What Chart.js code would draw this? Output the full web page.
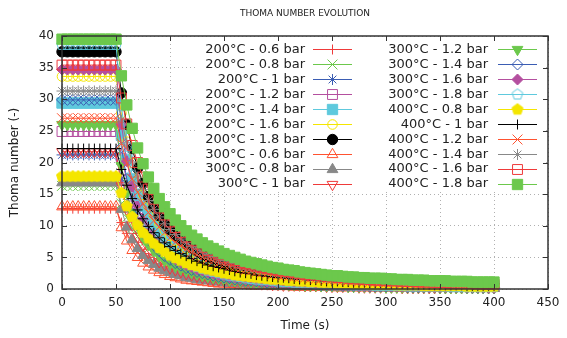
<!DOCTYPE html>
<html><head><meta charset="utf-8">
<script src="https://cdn.jsdelivr.net/npm/chart.js@4/dist/chart.umd.min.js"></script>
<style>html,body{margin:0;padding:0;background:#fff}canvas{display:block}</style>
</head><body>
<canvas id="c" width="567" height="338"></canvas>
<script>
const chartTitle = 'THOMA NUMBER EVOLUTION';
const xTitle = 'Time (s)';
const yTitle = 'Thoma number (-)';
const xTicks = [0,50,100,150,200,250,300,350,400,450];
const yTicks = [0,5,10,15,20,25,30,35,40];

const times = [0,5,10,15,20,25,30,35,40,45,50,55,60,65,70,75,80,85,90,95,100,105,110,115,120,125,130,135,140,145,150,155,160,165,170,175,180,185,190,195,200,205,210,215,220,225,230,235,240,245,250,255,260,265,270,275,280,285,290,295,300,305,310,315,320,325,330,335,340,345,350,355,360,365,370,375,380,385,390,395,400];

const seriesNames = ['200°C - 0.6 bar','200°C - 0.8 bar','200°C - 1 bar','200°C - 1.2 bar','200°C - 1.4 bar','200°C - 1.6 bar','200°C - 1.8 bar','300°C - 0.6 bar','300°C - 0.8 bar','300°C - 1 bar','300°C - 1.2 bar','300°C - 1.4 bar','300°C - 1.6 bar','300°C - 1.8 bar','400°C - 0.8 bar','400°C - 1 bar','400°C - 1.2 bar','400°C - 1.4 bar','400°C - 1.6 bar','400°C - 1.8 bar'];

const s200_06 = [12.7,12.7,12.7,12.7,12.7,12.7,12.7,12.7,12.7,12.7,12.7,
10.5,8.8,7.5,6.5,5.6,5.0,4.4,3.9,3.5,3.2,2.9,2.6,2.4,2.2,2.0,1.9,1.7,1.6,1.5,1.4,1.3,1.2,1.2,1.1,1.0,1.0,0.9,0.9,0.8,0.8,0.8,0.7,0.7,0.7,0.6,0.6,0.6,0.6,0.5,0.5,0.5,0.5,0.5,0.4,0.4,0.4,0.4,0.4,0.4,0.4,0.3,0.3,0.3,0.3,0.3,0.3,0.3,0.3,0.3,0.3,0.3,0.3,0.2,0.2,0.2,0.2,0.2,0.2,0.2,0.2];
const s200_08 = [16.3,16.3,16.3,16.3,16.3,16.3,16.3,16.3,16.3,16.3,16.3,
13.5,11.3,9.6,8.3,7.2,6.4,5.6,5.0,4.5,4.1,3.7,3.4,3.1,2.8,2.6,2.4,2.2,2.1,1.9,1.8,1.7,1.6,1.5,1.4,1.3,1.3,1.2,1.1,1.1,1.0,1.0,0.9,0.9,0.8,0.8,0.8,0.7,0.7,0.7,0.7,0.6,0.6,0.6,0.6,0.5,0.5,0.5,0.5,0.5,0.5,0.4,0.4,0.4,0.4,0.4,0.4,0.4,0.4,0.3,0.3,0.3,0.3,0.3,0.3,0.3,0.3,0.3,0.3,0.3,0.3];
const s200_1 = [21.2,21.2,21.2,21.2,21.2,21.2,21.2,21.2,21.2,21.2,21.2,
17.5,14.7,12.5,10.8,9.4,8.3,7.3,6.5,5.9,5.3,4.8,4.4,4.0,3.7,3.4,3.1,2.9,2.7,2.5,2.4,2.2,2.1,1.9,1.8,1.7,1.6,1.5,1.5,1.4,1.3,1.3,1.2,1.1,1.1,1.0,1.0,1.0,0.9,0.9,0.8,0.8,0.8,0.8,0.7,0.7,0.7,0.7,0.6,0.6,0.6,0.6,0.6,0.5,0.5,0.5,0.5,0.5,0.5,0.4,0.4,0.4,0.4,0.4,0.4,0.4,0.4,0.4,0.3,0.3,0.3];
const s200_12 = [24.9,24.9,24.9,24.9,24.9,24.9,24.9,24.9,24.9,24.9,24.9,
20.6,17.3,14.7,12.7,11.1,9.7,8.6,7.7,6.9,6.2,5.6,5.1,4.7,4.3,4.0,3.7,3.4,3.2,3.0,2.8,2.6,2.4,2.3,2.2,2.0,1.9,1.8,1.7,1.6,1.6,1.5,1.4,1.3,1.3,1.2,1.2,1.1,1.1,1.0,1.0,1.0,0.9,0.9,0.9,0.8,0.8,0.8,0.7,0.7,0.7,0.7,0.6,0.6,0.6,0.6,0.6,0.6,0.5,0.5,0.5,0.5,0.5,0.5,0.5,0.4,0.4,0.4,0.4,0.4,0.4];
const s200_14 = [29.4,29.4,29.4,29.4,29.4,29.4,29.4,29.4,29.4,29.4,29.4,
24.3,20.4,17.4,15.0,13.1,11.5,10.2,9.1,8.1,7.4,6.7,6.1,5.6,5.1,4.7,4.3,4.0,3.8,3.5,3.3,3.1,2.9,2.7,2.5,2.4,2.3,2.1,2.0,1.9,1.8,1.7,1.7,1.6,1.5,1.5,1.4,1.3,1.3,1.2,1.2,1.1,1.1,1.0,1.0,1.0,0.9,0.9,0.9,0.8,0.8,0.8,0.8,0.7,0.7,0.7,0.7,0.7,0.6,0.6,0.6,0.6,0.6,0.6,0.5,0.5,0.5,0.5,0.5,0.5,0.5];
const s200_16 = [33.6,33.6,33.6,33.6,33.6,33.6,33.6,33.6,33.6,33.6,33.6,
27.8,23.3,19.9,17.1,14.9,13.1,11.6,10.4,9.3,8.4,7.6,6.9,6.4,5.8,5.4,5.0,4.6,4.3,4.0,3.7,3.5,3.3,3.1,2.9,2.7,2.6,2.5,2.3,2.2,2.1,2.0,1.9,1.8,1.7,1.7,1.6,1.5,1.5,1.4,1.3,1.3,1.2,1.2,1.2,1.1,1.1,1.0,1.0,1.0,0.9,0.9,0.9,0.8,0.8,0.8,0.8,0.7,0.7,0.7,0.7,0.7,0.6,0.6,0.6,0.6,0.6,0.6,0.6,0.5,0.5];
const s200_18 = [37.5,37.5,37.5,37.5,37.5,37.5,37.5,37.5,37.5,37.5,37.5,
31.0,26.0,22.2,19.1,16.7,14.6,13.0,11.6,10.4,9.4,8.5,7.7,7.1,6.5,6.0,5.5,5.1,4.8,4.5,4.2,3.9,3.7,3.4,3.2,3.1,2.9,2.7,2.6,2.5,2.3,2.2,2.1,2.0,1.9,1.9,1.8,1.7,1.6,1.6,1.5,1.4,1.4,1.3,1.3,1.2,1.2,1.2,1.1,1.1,1.0,1.0,1.0,0.9,0.9,0.9,0.9,0.8,0.8,0.8,0.8,0.7,0.7,0.7,0.7,0.7,0.6,0.6,0.6,0.6,0.6];
const s300_06 = [13.0,13.0,13.0,13.0,13.0,13.0,13.0,13.0,13.0,13.0,13.0,
9.7,7.6,6.1,5.0,4.1,3.5,3.0,2.6,2.3,2.0,1.8,1.6,1.4,1.3,1.2,1.1,1.0,0.9,0.8,0.8,0.7,0.7,0.6,0.6,0.5,0.5,0.5,0.5,0.4,0.4,0.4,0.4,0.3,0.3,0.3,0.3,0.3,0.3,0.3,0.3,0.2,0.2,0.2,0.2,0.2,0.2,0.2,0.2,0.2,0.2,0.2,0.2,0.2,0.1,0.1,0.1,0.1,0.1,0.1,0.1,0.1,0.1,0.1,0.1,0.1,0.1,0.1,0.1,0.1,0.1];
const s300_08 = [16.8,16.8,16.8,16.8,16.8,16.8,16.8,16.8,16.8,16.8,16.8,
12.6,9.8,7.8,6.4,5.3,4.5,3.9,3.3,2.9,2.6,2.3,2.1,1.8,1.7,1.5,1.4,1.3,1.2,1.1,1.0,0.9,0.9,0.8,0.8,0.7,0.7,0.6,0.6,0.6,0.5,0.5,0.5,0.4,0.4,0.4,0.4,0.4,0.4,0.3,0.3,0.3,0.3,0.3,0.3,0.3,0.3,0.3,0.2,0.2,0.2,0.2,0.2,0.2,0.2,0.2,0.2,0.2,0.2,0.2,0.2,0.1,0.1,0.1,0.1,0.1,0.1,0.1,0.1,0.1,0.1];
const s300_1 = [21.7,21.7,21.7,21.7,21.7,21.7,21.7,21.7,21.7,21.7,21.7,
16.3,12.6,10.1,8.3,6.9,5.8,5.0,4.3,3.8,3.3,3.0,2.7,2.4,2.2,2.0,1.8,1.6,1.5,1.4,1.3,1.2,1.1,1.0,1.0,0.9,0.9,0.8,0.8,0.7,0.7,0.6,0.6,0.6,0.6,0.5,0.5,0.5,0.5,0.4,0.4,0.4,0.4,0.4,0.4,0.3,0.3,0.3,0.3,0.3,0.3,0.3,0.3,0.2,0.2,0.2,0.2,0.2,0.2,0.2,0.2,0.2,0.2,0.2,0.2,0.2,0.2,0.2,0.2,0.2,0.2];
const s300_12 = [26.0,26.0,26.0,26.0,26.0,26.0,26.0,26.0,26.0,26.0,26.0,
19.5,15.2,12.1,9.9,8.3,7.0,6.0,5.2,4.5,4.0,3.6,3.2,2.9,2.6,2.4,2.1,2.0,1.8,1.7,1.5,1.4,1.3,1.2,1.2,1.1,1.0,1.0,0.9,0.9,0.8,0.8,0.7,0.7,0.7,0.6,0.6,0.6,0.5,0.5,0.5,0.5,0.5,0.4,0.4,0.4,0.4,0.4,0.4,0.4,0.3,0.3,0.3,0.3,0.3,0.3,0.3,0.3,0.3,0.3,0.2,0.2,0.2,0.2,0.2,0.2,0.2,0.2,0.2,0.2,0.2];
const s300_14 = [29.9,29.9,29.9,29.9,29.9,29.9,29.9,29.9,29.9,29.9,29.9,
22.4,17.4,13.9,11.4,9.5,8.0,6.9,6.0,5.2,4.6,4.1,3.7,3.3,3.0,2.7,2.5,2.3,2.1,1.9,1.8,1.7,1.5,1.4,1.3,1.3,1.2,1.1,1.0,1.0,0.9,0.9,0.8,0.8,0.8,0.7,0.7,0.7,0.6,0.6,0.6,0.6,0.5,0.5,0.5,0.5,0.5,0.4,0.4,0.4,0.4,0.4,0.4,0.4,0.3,0.3,0.3,0.3,0.3,0.3,0.3,0.3,0.3,0.3,0.3,0.2,0.2,0.2,0.2,0.2,0.2];
const s300_16 = [34.7,34.7,34.7,34.7,34.7,34.7,34.7,34.7,34.7,34.7,34.7,
26.0,20.2,16.2,13.2,11.0,9.3,8.0,6.9,6.0,5.3,4.7,4.2,3.8,3.5,3.1,2.9,2.6,2.4,2.2,2.1,1.9,1.8,1.7,1.6,1.5,1.4,1.3,1.2,1.1,1.1,1.0,1.0,0.9,0.9,0.8,0.8,0.8,0.7,0.7,0.7,0.6,0.6,0.6,0.6,0.5,0.5,0.5,0.5,0.5,0.5,0.4,0.4,0.4,0.4,0.4,0.4,0.4,0.3,0.3,0.3,0.3,0.3,0.3,0.3,0.3,0.3,0.3,0.3,0.2,0.2];
const s300_18 = [38.6,38.6,38.6,38.6,38.6,38.6,38.6,38.6,38.6,38.6,38.6,
28.9,22.5,18.0,14.7,12.3,10.4,8.9,7.7,6.7,5.9,5.3,4.7,4.2,3.8,3.5,3.2,2.9,2.7,2.5,2.3,2.1,2.0,1.9,1.7,1.6,1.5,1.4,1.4,1.3,1.2,1.1,1.1,1.0,1.0,0.9,0.9,0.8,0.8,0.8,0.7,0.7,0.7,0.7,0.6,0.6,0.6,0.6,0.5,0.5,0.5,0.5,0.5,0.5,0.4,0.4,0.4,0.4,0.4,0.4,0.4,0.4,0.3,0.3,0.3,0.3,0.3,0.3,0.3,0.3,0.3];
const s400_08 = [17.8,17.8,17.8,17.8,17.8,17.8,17.8,17.8,17.8,17.8,17.8,
15.2,13.1,11.4,10.1,8.9,8.0,7.2,6.5,5.9,5.3,4.9,4.5,4.1,3.8,3.6,3.3,3.1,2.9,2.7,2.5,2.4,2.2,2.1,2.0,1.9,1.8,1.7,1.6,1.5,1.5,1.4,1.3,1.3,1.2,1.2,1.1,1.1,1.0,1.0,1.0,0.9,0.9,0.9,0.8,0.8,0.8,0.7,0.7,0.7,0.7,0.7,0.6,0.6,0.6,0.6,0.6,0.5,0.5,0.5,0.5,0.5,0.5,0.5,0.5,0.4,0.4,0.4,0.4,0.4,0.4];
const s400_1 = [22.2,22.2,22.2,22.2,22.2,22.2,22.2,22.2,22.2,22.2,22.2,
18.9,16.4,14.3,12.5,11.1,9.9,8.9,8.1,7.3,6.7,6.1,5.6,5.2,4.8,4.4,4.1,3.8,3.6,3.4,3.2,3.0,2.8,2.6,2.5,2.4,2.2,2.1,2.0,1.9,1.8,1.8,1.7,1.6,1.5,1.5,1.4,1.4,1.3,1.2,1.2,1.2,1.1,1.1,1.0,1.0,1.0,0.9,0.9,0.9,0.8,0.8,0.8,0.8,0.7,0.7,0.7,0.7,0.7,0.6,0.6,0.6,0.6,0.6,0.6,0.5,0.5,0.5,0.5,0.5,0.5];
const s400_12 = [27.0,27.0,27.0,27.0,27.0,27.0,27.0,27.0,27.0,27.0,27.0,
23.0,19.9,17.4,15.3,13.5,12.1,10.8,9.8,8.9,8.1,7.4,6.8,6.3,5.8,5.4,5.0,4.7,4.4,4.1,3.8,3.6,3.4,3.2,3.0,2.9,2.7,2.6,2.5,2.3,2.2,2.1,2.0,1.9,1.9,1.8,1.7,1.6,1.6,1.5,1.5,1.4,1.4,1.3,1.3,1.2,1.2,1.1,1.1,1.1,1.0,1.0,1.0,0.9,0.9,0.9,0.9,0.8,0.8,0.8,0.8,0.7,0.7,0.7,0.7,0.7,0.7,0.6,0.6,0.6,0.6];
const s400_14 = [31.3,31.3,31.3,31.3,31.3,31.3,31.3,31.3,31.3,31.3,31.3,
26.7,23.1,20.1,17.7,15.7,14.0,12.6,11.4,10.3,9.4,8.6,7.9,7.3,6.7,6.3,5.8,5.4,5.1,4.7,4.5,4.2,4.0,3.7,3.5,3.3,3.2,3.0,2.9,2.7,2.6,2.5,2.4,2.3,2.2,2.1,2.0,1.9,1.8,1.8,1.7,1.6,1.6,1.5,1.5,1.4,1.4,1.3,1.3,1.2,1.2,1.2,1.1,1.1,1.1,1.0,1.0,1.0,0.9,0.9,0.9,0.9,0.8,0.8,0.8,0.8,0.8,0.7,0.7,0.7,0.7];
const s400_16 = [35.4,35.4,35.4,35.4,35.4,35.4,35.4,35.4,35.4,35.4,35.4,
30.2,26.1,22.7,20.0,17.7,15.8,14.2,12.8,11.7,10.6,9.7,8.9,8.2,7.6,7.1,6.6,6.1,5.7,5.4,5.0,4.7,4.5,4.2,4.0,3.8,3.6,3.4,3.2,3.1,2.9,2.8,2.7,2.6,2.4,2.3,2.2,2.2,2.1,2.0,1.9,1.8,1.8,1.7,1.6,1.6,1.5,1.5,1.4,1.4,1.3,1.3,1.3,1.2,1.2,1.2,1.1,1.1,1.1,1.0,1.0,1.0,0.9,0.9,0.9,0.9,0.9,0.8,0.8,0.8,0.8];
const s400_18 = [39.5,39.5,39.5,39.5,39.5,39.5,39.5,39.5,39.5,39.5,39.5,
33.7,29.1,25.4,22.3,19.8,17.7,15.9,14.3,13.0,11.9,10.9,10.0,9.2,8.5,7.9,7.3,6.8,6.4,6.0,5.6,5.3,5.0,4.7,4.4,4.2,4.0,3.8,3.6,3.4,3.3,3.1,3.0,2.9,2.7,2.6,2.5,2.4,2.3,2.2,2.1,2.1,2.0,1.9,1.9,1.8,1.8,1.7,1.7,1.7,1.6,1.6,1.5,1.5,1.5,1.4,1.4,1.4,1.3,1.3,1.3,1.3,1.2,1.2,1.2,1.2,1.1,1.1,1.1,1.1,1.1];

const seriesValues = [s200_06,s200_08,s200_1,s200_12,s200_14,s200_16,s200_18,s300_06,s300_08,s300_1,s300_12,s300_14,s300_16,s300_18,s400_08,s400_1,s400_12,s400_14,s400_16,s400_18];

// ---- styling ----
const palette = ['#ef3a3a','#6cc84c','#3b5db3','#b44f9f','#5ec9dd','#f4e600','#000000','#ff5230','#888888'];
const FONT = '"DejaVu Sans", "Liberation Sans", sans-serif';

function pentagonCanvas(color, filled, r) {
  const s = Math.ceil(r * 2 + 4);
  const c = document.createElement('canvas');
  c.width = s; c.height = s;
  const g = c.getContext('2d');
  g.beginPath();
  for (let k = 0; k < 5; k++) {
    const a = -Math.PI / 2 + k * 2 * Math.PI / 5;
    const px = s / 2 + r * Math.cos(a), py = s / 2 + r * Math.sin(a);
    if (k === 0) g.moveTo(px, py); else g.lineTo(px, py);
  }
  g.closePath();
  g.lineWidth = 1;
  g.strokeStyle = color;
  if (filled) { g.fillStyle = color; g.fill(); }
  g.stroke();
  return c;
}

const markerTypes = [
  {ps:'cross', r:5, fill:false},
  {ps:'crossRot', r:7, fill:false},
  {ps:'star', r:5.5, fill:false},
  {ps:'rect', r:7, fill:false},
  {ps:'rect', r:7.3, fill:true},
  {ps:'circle', r:4.8, fill:false},
  {ps:'circle', r:5.2, fill:true},
  {ps:'triangle', r:6.2, fill:false},
  {ps:'triangle', r:6.2, fill:true},
  {ps:'triangle', r:6.2, fill:false, rot:180},
  {ps:'triangle', r:6.2, fill:true, rot:180},
  {ps:'rectRot', r:5.5, fill:false},
  {ps:'rectRot', r:5.5, fill:true},
  {ps:'pent', r:5.6, fill:false},
  {ps:'pent', r:5.8, fill:true}
];

const datasets = seriesValues.map((vals, i) => {
  const col = palette[i % 9];
  const m = markerTypes[i % 15];
  const pstyle = m.ps === 'pent' ? pentagonCanvas(col, m.fill, m.r) : m.ps;
  return {
    label: seriesNames[i],
    data: vals.map((v, j) => ({x: times[j], y: v})),
    borderColor: col,
    backgroundColor: m.fill ? col : 'rgba(0,0,0,0)',
    borderWidth: 1,
    pointStyle: pstyle,
    pointRadius: m.r,
    pointHoverRadius: m.r,
    pointRotation: m.rot || 0,
    pointBorderColor: col,
    pointBackgroundColor: m.fill ? col : 'rgba(0,0,0,0)',
    pointBorderWidth: 1,
    tension: 0,
    fill: false,
    clip: false,
    order: seriesValues.length - i
  };
});

const keyPlugin = {
  id: 'gnuKey',
  afterDatasetsDraw(chart) {
    const ctx = chart.ctx;
    ctx.save();
    ctx.fillStyle = '#ffffff';
    ctx.fillRect(196, 39, 350, 152);
    ctx.font = '13px ' + FONT;
    ctx.textAlign = 'right';
    ctx.textBaseline = 'middle';
    chart.data.datasets.forEach((ds, i) => {
      const col = i < 10 ? 0 : 1;
      const row = i % 10;
      const y = 49 + row * 14.95;
      const textRight = col === 0 ? 305 : 488;
      const l0 = col === 0 ? 313 : 498;
      const l1 = col === 0 ? 352 : 537;
      ctx.fillStyle = '#222222';
      ctx.fillText(ds.label, textRight, y + 0.5);
      ctx.strokeStyle = ds.borderColor;
      ctx.lineWidth = 1;
      ctx.beginPath();
      ctx.moveTo(l0, Math.round(y) + 0.5);
      ctx.lineTo(l1, Math.round(y) + 0.5);
      ctx.stroke();
      ctx.fillStyle = ds.pointBackgroundColor;
      ctx.strokeStyle = ds.pointBorderColor;
      Chart.helpers.drawPoint(ctx, {
        pointStyle: ds.pointStyle,
        rotation: ds.pointRotation,
        radius: ds.pointRadius,
        borderWidth: 1
      }, (l0 + l1) / 2, Math.round(y) + 0.5);
    });
    ctx.restore();
  }
};

const framePlugin = {
  id: 'gnuFrame',
  afterDraw(chart) {
    const {ctx, chartArea: {left, right, top, bottom}, scales: {x, y}} = chart;
    ctx.save();
    ctx.strokeStyle = '#333333';
    ctx.lineWidth = 1;
    const tl = 5;
    ctx.beginPath();
    x.ticks.forEach(t => {
      const px = Math.round(x.getPixelForValue(t.value)) + 0.5;
      ctx.moveTo(px, bottom); ctx.lineTo(px, bottom - tl);
      ctx.moveTo(px, top); ctx.lineTo(px, top + tl);
    });
    y.ticks.forEach(t => {
      const py = Math.round(y.getPixelForValue(t.value)) + 0.5;
      ctx.moveTo(left, py); ctx.lineTo(left + tl, py);
      ctx.moveTo(right, py); ctx.lineTo(right - tl, py);
    });
    ctx.stroke();
    ctx.lineWidth = 1.5;
    ctx.strokeRect(left, top, right - left, bottom - top);
    ctx.fillStyle = '#222222';
    ctx.textAlign = 'center';
    ctx.textBaseline = 'middle';
    ctx.font = '9px ' + FONT;
    ctx.fillText(chartTitle, (left + right) / 2, 14);
    ctx.font = '12px ' + FONT;
    ctx.fillText(xTitle, (left + right) / 2, 326);
    ctx.translate(15, (top + bottom) / 2);
    ctx.rotate(-Math.PI / 2);
    ctx.fillText(yTitle, 0, 0);
    ctx.restore();
  }
};

new Chart(document.getElementById('c'), {
  type: 'line',
  data: {datasets},
  options: {
    responsive: false,
    animation: false,
    devicePixelRatio: 1,
    events: [],
    layout: {padding: {left: 0, right: 19, top: 36, bottom: 0}},
    plugins: {legend: {display: false}, tooltip: {enabled: false}, title: {display: false}},
    scales: {
      x: {
        type: 'linear', min: xTicks[0], max: xTicks[xTicks.length - 1],
        afterFit(s) { s.height = 49; },
        afterBuildTicks(s) { s.ticks = xTicks.map(v => ({value: v})); },
        ticks: {padding: 7, color: '#222222', font: {family: FONT, size: 12}, maxRotation: 0, autoSkip: false},
        grid: {color: '#b0b0b0', lineWidth: 1, drawTicks: false},
        border: {display: false, dash: [1, 3]}
      },
      y: {
        type: 'linear', min: yTicks[0], max: yTicks[yTicks.length - 1],
        afterFit(s) { s.width = 62; },
        afterBuildTicks(s) { s.ticks = yTicks.map(v => ({value: v})); },
        ticks: {padding: 8, color: '#222222', font: {family: FONT, size: 12}},
        grid: {color: '#b0b0b0', lineWidth: 1, drawTicks: false},
        border: {display: false, dash: [1, 3]}
      }
    }
  },
  plugins: [keyPlugin, framePlugin]
});
</script>
</body></html>
